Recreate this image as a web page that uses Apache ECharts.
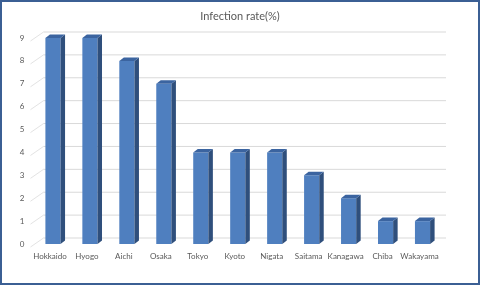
<!DOCTYPE html>
<html>
<head>
<meta charset="utf-8">
<style>
  html, body { margin: 0; padding: 0; background: #fff; }
  #chart { width: 480px; height: 285px; }
</style>
<script src="https://cdn.jsdelivr.net/npm/echarts@6/dist/echarts.min.js"></script>
</head>
<body>
<div id="chart"></div>
<script>
// data
var prefectures = ['Hokkaido', 'Hyogo', 'Aichi', 'Osaka', 'Tokyo', 'Kyoto', 'Nigata', 'Saitama', 'Kanagawa', 'Chiba', 'Wakayama'];
var infectionRate = [9, 9, 8, 7, 4, 4, 4, 3, 2, 1, 1];
var yTicks = [0, 1, 2, 3, 4, 5, 6, 7, 8, 9];

var FONT = 'Lato, "Open Sans", sans-serif';
var TEXT_COLOR = '#595959';

// fake 3d look like the excel chart
var depthX = 4.5, depthY = 3.5;

function renderBar(params, api) {
    var idx = api.value(0);
    var base = api.coord([idx, 0]);
    var top = api.coord([idx, api.value(1)]);
    var w = api.size([1, 0])[0] * 0.41;
    var x0 = top[0] - w / 2 + 3,
        x1 = x0 + w,
        yt = top[1],
        yb = base[1];

    return {
        type: 'group',
        children: [{
            type: 'rect',
            shape: { x: x0, y: yt, width: w, height: yb - yt },
            style: { fill: '#4f7fbf' }
        }, {
            type: 'polygon',
            shape: { points: [[x1, yt], [x1 + depthX, yt - depthY], [x1 + depthX, yb - depthY], [x1, yb]] },
            style: { fill: '#2f4f7c' }
        }, {
            type: 'polygon',
            shape: { points: [[x0, yt], [x0 + depthX, yt - depthY], [x1 + depthX, yt - depthY], [x1, yt]] },
            style: { fill: '#3b64a0' }
        }]
    };
}

function renderGridLine(params, api) {
    var cs = params.coordSys;
    var y = api.coord([0, api.value(1)])[1];
    var xl = cs.x - 1;
    return {
        type: 'group',
        children: [{
            type: 'line',
            shape: { x1: xl, y1: y + 3, x2: xl + 13, y2: y - 6 },
            style: { stroke: '#e3e3e3', lineWidth: 1 }
        }, {
            type: 'line',
            shape: { x1: xl + 13, y1: y - 6, x2: 446, y2: y - 6 },
            style: { stroke: '#d9d9d9', lineWidth: 1 }
        }]
    };
}

var chart = echarts.init(document.getElementById('chart'), null, { renderer: 'canvas' });

chart.setOption({
    animation: false,
    backgroundColor: '#fff',
    textStyle: { fontFamily: FONT },
    title: {
        text: 'Infection rate(%)',
        left: 'center',
        top: 6,
        textStyle: { fontFamily: FONT, fontSize: 11, fontWeight: 'normal', color: TEXT_COLOR }
    },
    graphic: [{
        type: 'rect',
        shape: { x: 1, y: 1, width: 478, height: 283 },
        style: { fill: 'none', stroke: '#3b5f94', lineWidth: 2 },
        z: 100
    }],
    grid: { left: 31.5, right: 42, top: 38, bottom: 41 },
    xAxis: {
        type: 'category',
        data: prefectures,
        axisLine: { show: false },
        axisTick: { show: false },
        axisLabel: { margin: 8, fontSize: 8, color: TEXT_COLOR, fontFamily: FONT, interval: 0 }
    },
    yAxis: {
        type: 'value',
        min: 0,
        max: 9,
        interval: 1,
        axisLine: { show: false },
        axisTick: { show: false },
        splitLine: { show: false },
        axisLabel: { margin: 7, fontSize: 8, color: TEXT_COLOR, fontFamily: FONT, padding: [6, 0, 0, 0] }
    },
    series: [{
        type: 'custom',
        name: 'grid',
        renderItem: renderGridLine,
        data: yTicks.map(function (t) { return [0, t]; }),
        z: 1,
        silent: true
    }, {
        type: 'custom',
        name: 'Infection rate',
        renderItem: renderBar,
        data: infectionRate.map(function (v, i) { return [i, v]; }),
        z: 2
    }]
});
</script>
</body>
</html>
